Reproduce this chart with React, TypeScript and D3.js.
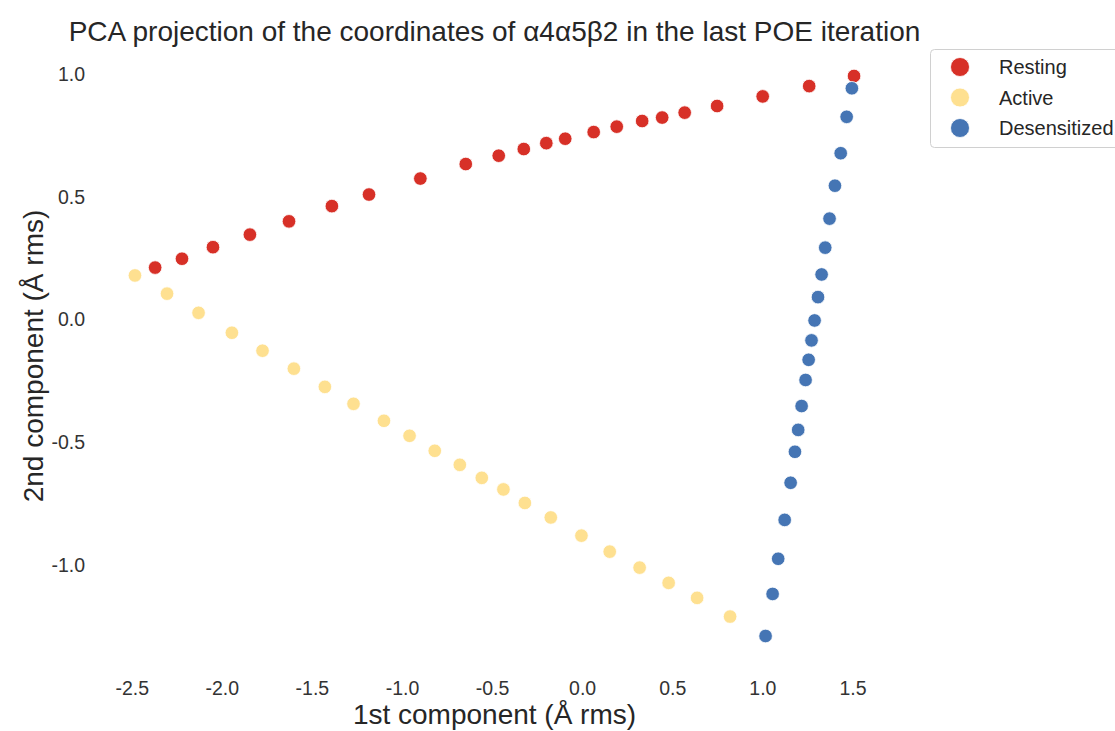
import React, { useRef, useEffect } from 'react';
import * as d3 from 'd3';

const restingX = [-2.370, -2.221, -2.049, -1.844, -1.627, -1.389, -1.183, -0.898, -0.646, -0.463, -0.324, -0.199, -0.094, 0.064, 0.192, 0.333, 0.444, 0.569, 0.749, 1.002, 1.260, 1.509];
const restingY = [0.212, 0.248, 0.295, 0.346, 0.400, 0.462, 0.509, 0.574, 0.633, 0.667, 0.694, 0.718, 0.736, 0.763, 0.785, 0.808, 0.822, 0.842, 0.869, 0.908, 0.950, 0.991];

const activeX = [-2.482, -2.304, -2.129, -1.944, -1.774, -1.600, -1.428, -1.269, -1.100, -0.958, -0.818, -0.679, -0.557, -0.437, -0.318, -0.174, -0.004, 0.153, 0.319, 0.480, 0.638, 0.821];
const activeY = [0.180, 0.106, 0.028, -0.053, -0.126, -0.199, -0.273, -0.342, -0.411, -0.472, -0.533, -0.590, -0.643, -0.690, -0.745, -0.804, -0.878, -0.943, -1.008, -1.070, -1.131, -1.207];

const desensX = [1.497, 1.468, 1.435, 1.403, 1.373, 1.349, 1.329, 1.309, 1.290, 1.273, 1.257, 1.240, 1.218, 1.199, 1.181, 1.157, 1.124, 1.088, 1.057, 1.018];
const desensY = [0.941, 0.825, 0.677, 0.545, 0.411, 0.293, 0.184, 0.092, -0.003, -0.084, -0.163, -0.245, -0.351, -0.448, -0.537, -0.663, -0.814, -0.972, -1.115, -1.286];

const seriesNames = ['Resting', 'Active', 'Desensitized'];
const seriesColors = ['#d73027', '#fee090', '#4575b4'];

const xTicks = [-2.5, -2.0, -1.5, -1.0, -0.5, 0.0, 0.5, 1.0, 1.5];
const yTicks = [-1.0, -0.5, 0.0, 0.5, 1.0];

const title = 'PCA projection of the coordinates of α4α5β2 in the last POE iteration';
const xLabel = '1st component (Å rms)';
const yLabel = '2nd component (Å rms)';

const App = () => {
    const ref = useRef<SVGSVGElement>(null);

    useEffect(() => {
        const svg = d3.select(ref.current);
        svg.selectAll("*").remove();

        const width = 1115, height = 731;
        const left = 99, right = 890, top = 48, bottom = 664;
        const font = "'Liberation Sans', Arial, sans-serif";
        const textColor = '#262626';

        const series = [
            { name: seriesNames[0], xs: restingX, ys: restingY },
            { name: seriesNames[1], xs: activeX, ys: activeY },
            { name: seriesNames[2], xs: desensX, ys: desensY },
        ];

        const allX = [...restingX, ...activeX, ...desensX];
        const allY = [...restingY, ...activeY, ...desensY];
        // matplotlib style 5% margins
        const xExt = d3.extent(allX) as [number, number];
        const yExt = d3.extent(allY) as [number, number];
        const xPad = (xExt[1] - xExt[0]) * 0.05;
        const yPad = (yExt[1] - yExt[0]) * 0.05;

        const x = d3.scaleLinear().domain([xExt[0] - xPad, xExt[1] + xPad]).range([left, right]);
        const y = d3.scaleLinear().domain([yExt[0] - yPad, yExt[1] + yPad]).range([bottom, top]);

        const color = d3.scaleOrdinal<string, string>().domain(seriesNames).range(seriesColors);
        const fmt = (d: number) => d3.format('.1f')(d).replace('−', '-');

        svg.attr("width", width).attr("height", height);

        // axes, no spines (seaborn white)
        const xAxis = svg.append("g")
            .attr("transform", `translate(0, ${bottom})`)
            .call(d3.axisBottom(x).tickValues(xTicks).tickSize(0).tickPadding(17).tickFormat(fmt as any));
        xAxis.select(".domain").remove();
        xAxis.selectAll("text")
            .attr("font-family", font).attr("font-size", 19.5).attr("fill", '#333333');

        const yAxis = svg.append("g")
            .attr("transform", `translate(${left}, 0)`)
            .call(d3.axisLeft(y).tickValues(yTicks).tickSize(0).tickPadding(14).tickFormat(fmt as any));
        yAxis.select(".domain").remove();
        yAxis.selectAll("text")
            .attr("font-family", font).attr("font-size", 19.5).attr("fill", '#333333');

        series.forEach((s) => {
            svg.append("g")
                .selectAll("circle")
                .data(s.xs.map((v, i) => [v, s.ys[i]]))
                .join("circle")
                .attr("cx", d => x(d[0]))
                .attr("cy", d => y(d[1]))
                .attr("r", 6.8)
                .attr("fill", color(s.name))
                .attr("stroke", "white")
                .attr("stroke-width", 0.8);
        });

        svg.append("text")
            .attr("x", (left + right) / 2)
            .attr("y", 41)
            .attr("text-anchor", "middle")
            .attr("font-family", font)
            .attr("font-size", 28)
            .attr("fill", textColor)
            .text(title);

        svg.append("text")
            .attr("x", (left + right) / 2)
            .attr("y", 724)
            .attr("text-anchor", "middle")
            .attr("font-family", font)
            .attr("font-size", 28)
            .attr("fill", textColor)
            .text(xLabel);

        svg.append("text")
            .attr("transform", `translate(43, ${(top + bottom) / 2}) rotate(-90)`)
            .attr("text-anchor", "middle")
            .attr("font-family", font)
            .attr("font-size", 28)
            .attr("fill", textColor)
            .text(yLabel);

        // legend
        const legend = svg.append("g").attr("transform", "translate(930, 49)");
        legend.append("rect")
            .attr("x", 0.5).attr("y", 0.5)
            .attr("width", 220).attr("height", 98)
            .attr("rx", 4)
            .attr("fill", "white")
            .attr("stroke", "#d0d0d0")
            .attr("stroke-width", 1);
        seriesNames.forEach((name, i) => {
            legend.append("circle")
                .attr("cx", 30)
                .attr("cy", 18 + i * 30.5)
                .attr("r", 9.5)
                .attr("fill", color(name))
                .attr("stroke", "white")
                .attr("stroke-width", 0.8);
            legend.append("text")
                .attr("x", 69)
                .attr("y", 18 + i * 30.5)
                .attr("dy", "0.35em")
                .attr("font-family", font)
                .attr("font-size", 20)
                .attr("fill", textColor)
                .text(name);
        });
    }, []);

    return (
        <div>
            <svg ref={ref} style={{ position: 'absolute', left: 0, top: 0 }} />
        </div>
    );
};

export default App;
